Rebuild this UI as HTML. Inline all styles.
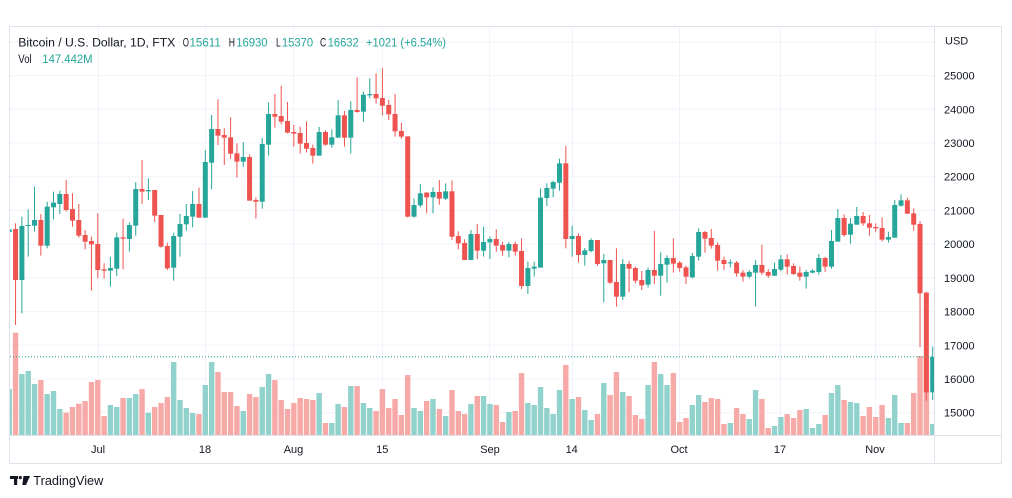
<!DOCTYPE html>
<html><head><meta charset="utf-8"><style>
html,body{margin:0;padding:0;background:#fff;}
svg{display:block;font-family:"Liberation Sans",Arial,sans-serif;}
.g{fill:#26a69a}.r{fill:#ef5350}.gv{fill:#92d2cc}.rv{fill:#f7a9a7}
.t{fill:#131722;font-size:11px}
</style></head><body>
<svg width="1012" height="498" viewBox="0 0 1012 498" xmlns="http://www.w3.org/2000/svg">
<defs><clipPath id="pc"><rect x="10" y="27" width="924" height="408"/></clipPath></defs>
<rect x="0" y="0" width="1012" height="498" fill="#fff"/>
<g stroke="#f0f3fa" stroke-width="1">
<line x1="10" y1="41.9" x2="934" y2="41.9"/><line x1="10" y1="75.6" x2="934" y2="75.6"/><line x1="10" y1="109.3" x2="934" y2="109.3"/><line x1="10" y1="143" x2="934" y2="143"/><line x1="10" y1="176.7" x2="934" y2="176.7"/><line x1="10" y1="210.5" x2="934" y2="210.5"/><line x1="10" y1="244.2" x2="934" y2="244.2"/><line x1="10" y1="277.9" x2="934" y2="277.9"/><line x1="10" y1="311.6" x2="934" y2="311.6"/><line x1="10" y1="345.3" x2="934" y2="345.3"/><line x1="10" y1="379" x2="934" y2="379"/><line x1="10" y1="412.7" x2="934" y2="412.7"/>
<line x1="98.5" y1="27" x2="98.5" y2="435"/><line x1="205.5" y1="27" x2="205.5" y2="435"/><line x1="293.5" y1="27" x2="293.5" y2="435"/><line x1="382.5" y1="27" x2="382.5" y2="435"/><line x1="489.5" y1="27" x2="489.5" y2="435"/><line x1="572.5" y1="27" x2="572.5" y2="435"/><line x1="679.5" y1="27" x2="679.5" y2="435"/><line x1="780.5" y1="27" x2="780.5" y2="435"/><line x1="875.5" y1="27" x2="875.5" y2="435"/>
</g>
<g clip-path="url(#pc)"><g transform="translate(0,60) scale(1,0.3333333)">
<g transform="translate(9.23)"><rect class="gv" x="-2.7" y="987" width="5.4" height="138"/><rect class="g" x="-0.5" y="500" width="1" height="20"/><rect class="g" x="-2.5" y="508" width="5" height="8"/></g>
<g transform="translate(15.55)"><rect class="rv" x="-2.7" y="818" width="5.4" height="307"/><rect class="r" x="-0.5" y="490" width="1" height="305"/><rect class="r" x="-2.5" y="507" width="5" height="153"/></g>
<g transform="translate(21.88)"><rect class="gv" x="-2.7" y="942" width="5.4" height="183"/><rect class="g" x="-0.5" y="470" width="1" height="290"/><rect class="g" x="-2.5" y="498" width="5" height="162"/></g>
<g transform="translate(28.2)"><rect class="gv" x="-2.7" y="933" width="5.4" height="192"/><rect class="g" x="-0.5" y="448" width="1" height="142"/><rect class="g" x="-2.5" y="495" width="5" height="3"/></g>
<g transform="translate(34.53)"><rect class="gv" x="-2.7" y="972" width="5.4" height="153"/><rect class="g" x="-0.5" y="380" width="1" height="135"/><rect class="g" x="-2.5" y="480" width="5" height="17"/></g>
<g transform="translate(40.85)"><rect class="rv" x="-2.7" y="960" width="5.4" height="165"/><rect class="r" x="-0.5" y="462" width="1" height="125"/><rect class="r" x="-2.5" y="480" width="5" height="77"/></g>
<g transform="translate(47.18)"><rect class="gv" x="-2.7" y="1002" width="5.4" height="123"/><rect class="g" x="-0.5" y="425" width="1" height="140"/><rect class="g" x="-2.5" y="440" width="5" height="117"/></g>
<g transform="translate(53.5)"><rect class="gv" x="-2.7" y="993" width="5.4" height="132"/><rect class="g" x="-0.5" y="395" width="1" height="83"/><rect class="g" x="-2.5" y="428" width="5" height="14"/></g>
<g transform="translate(59.83)"><rect class="gv" x="-2.7" y="1047" width="5.4" height="78"/><rect class="g" x="-0.5" y="392" width="1" height="70"/><rect class="g" x="-2.5" y="402" width="5" height="30"/></g>
<g transform="translate(66.15)"><rect class="rv" x="-2.7" y="1058" width="5.4" height="67"/><rect class="r" x="-0.5" y="360" width="1" height="95"/><rect class="r" x="-2.5" y="402" width="5" height="48"/></g>
<g transform="translate(72.48)"><rect class="rv" x="-2.7" y="1041" width="5.4" height="84"/><rect class="r" x="-0.5" y="400" width="1" height="100"/><rect class="r" x="-2.5" y="447" width="5" height="35"/></g>
<g transform="translate(78.8)"><rect class="rv" x="-2.7" y="1031" width="5.4" height="94"/><rect class="r" x="-0.5" y="432" width="1" height="101"/><rect class="r" x="-2.5" y="480" width="5" height="47"/></g>
<g transform="translate(85.13)"><rect class="rv" x="-2.7" y="1023" width="5.4" height="102"/><rect class="r" x="-0.5" y="510" width="1" height="58"/><rect class="r" x="-2.5" y="525" width="5" height="20"/></g>
<g transform="translate(91.45)"><rect class="rv" x="-2.7" y="966" width="5.4" height="159"/><rect class="r" x="-0.5" y="530" width="1" height="162"/><rect class="r" x="-2.5" y="543" width="5" height="10"/></g>
<g transform="translate(97.78)"><rect class="rv" x="-2.7" y="960" width="5.4" height="165"/><rect class="r" x="-0.5" y="460" width="1" height="195"/><rect class="r" x="-2.5" y="552" width="5" height="78"/></g>
<g transform="translate(104.1)"><rect class="rv" x="-2.7" y="1068" width="5.4" height="57"/><rect class="r" x="-0.5" y="610" width="1" height="45"/><rect class="r" x="-2.5" y="628" width="5" height="4"/></g>
<g transform="translate(110.43)"><rect class="gv" x="-2.7" y="1035" width="5.4" height="90"/><rect class="g" x="-0.5" y="590" width="1" height="90"/><rect class="g" x="-2.5" y="624" width="5" height="8"/></g>
<g transform="translate(116.75)"><rect class="gv" x="-2.7" y="1041" width="5.4" height="84"/><rect class="g" x="-0.5" y="518" width="1" height="130"/><rect class="g" x="-2.5" y="532" width="5" height="94"/></g>
<g transform="translate(123.08)"><rect class="rv" x="-2.7" y="1014" width="5.4" height="111"/><rect class="r" x="-0.5" y="476" width="1" height="152"/><rect class="r" x="-2.5" y="532" width="5" height="4"/></g>
<g transform="translate(129.4)"><rect class="gv" x="-2.7" y="1014" width="5.4" height="111"/><rect class="g" x="-0.5" y="487" width="1" height="88"/><rect class="g" x="-2.5" y="495" width="5" height="42"/></g>
<g transform="translate(135.73)"><rect class="gv" x="-2.7" y="1002" width="5.4" height="123"/><rect class="g" x="-0.5" y="366" width="1" height="161"/><rect class="g" x="-2.5" y="387" width="5" height="110"/></g>
<g transform="translate(142.05)"><rect class="rv" x="-2.7" y="987" width="5.4" height="138"/><rect class="r" x="-0.5" y="300" width="1" height="132"/><rect class="r" x="-2.5" y="387" width="5" height="8"/></g>
<g transform="translate(148.38)"><rect class="gv" x="-2.7" y="1058" width="5.4" height="67"/><rect class="g" x="-0.5" y="355" width="1" height="65"/><rect class="g" x="-2.5" y="390" width="5" height="4"/></g>
<g transform="translate(154.7)"><rect class="rv" x="-2.7" y="1041" width="5.4" height="84"/><rect class="r" x="-0.5" y="390" width="1" height="96"/><rect class="r" x="-2.5" y="390" width="5" height="77"/></g>
<g transform="translate(161.03)"><rect class="rv" x="-2.7" y="1029" width="5.4" height="96"/><rect class="r" x="-0.5" y="465" width="1" height="98"/><rect class="r" x="-2.5" y="465" width="5" height="95"/></g>
<g transform="translate(167.35)"><rect class="rv" x="-2.7" y="1011" width="5.4" height="114"/><rect class="r" x="-0.5" y="548" width="1" height="82"/><rect class="r" x="-2.5" y="558" width="5" height="67"/></g>
<g transform="translate(173.68)"><rect class="gv" x="-2.7" y="906" width="5.4" height="219"/><rect class="g" x="-0.5" y="518" width="1" height="144"/><rect class="g" x="-2.5" y="528" width="5" height="95"/></g>
<g transform="translate(180)"><rect class="gv" x="-2.7" y="1020" width="5.4" height="105"/><rect class="g" x="-0.5" y="462" width="1" height="128"/><rect class="g" x="-2.5" y="492" width="5" height="38"/></g>
<g transform="translate(186.33)"><rect class="gv" x="-2.7" y="1044" width="5.4" height="81"/><rect class="g" x="-0.5" y="432" width="1" height="80"/><rect class="g" x="-2.5" y="468" width="5" height="25"/></g>
<g transform="translate(192.65)"><rect class="gv" x="-2.7" y="1059" width="5.4" height="66"/><rect class="g" x="-0.5" y="393" width="1" height="109"/><rect class="g" x="-2.5" y="432" width="5" height="38"/></g>
<g transform="translate(198.98)"><rect class="rv" x="-2.7" y="1062" width="5.4" height="63"/><rect class="r" x="-0.5" y="383" width="1" height="90"/><rect class="r" x="-2.5" y="432" width="5" height="41"/></g>
<g transform="translate(205.3)"><rect class="gv" x="-2.7" y="975" width="5.4" height="150"/><rect class="g" x="-0.5" y="270" width="1" height="203"/><rect class="g" x="-2.5" y="306" width="5" height="167"/></g>
<g transform="translate(211.63)"><rect class="gv" x="-2.7" y="906" width="5.4" height="219"/><rect class="g" x="-0.5" y="165" width="1" height="223"/><rect class="g" x="-2.5" y="207" width="5" height="101"/></g>
<g transform="translate(217.95)"><rect class="rv" x="-2.7" y="936" width="5.4" height="189"/><rect class="r" x="-0.5" y="118" width="1" height="137"/><rect class="r" x="-2.5" y="207" width="5" height="20"/></g>
<g transform="translate(224.28)"><rect class="rv" x="-2.7" y="996" width="5.4" height="129"/><rect class="r" x="-0.5" y="205" width="1" height="110"/><rect class="r" x="-2.5" y="225" width="5" height="8"/></g>
<g transform="translate(230.6)"><rect class="rv" x="-2.7" y="996" width="5.4" height="129"/><rect class="r" x="-0.5" y="172" width="1" height="125"/><rect class="r" x="-2.5" y="232" width="5" height="49"/></g>
<g transform="translate(236.93)"><rect class="rv" x="-2.7" y="1038" width="5.4" height="87"/><rect class="r" x="-0.5" y="250" width="1" height="103"/><rect class="r" x="-2.5" y="280" width="5" height="25"/></g>
<g transform="translate(243.25)"><rect class="gv" x="-2.7" y="1053" width="5.4" height="72"/><rect class="g" x="-0.5" y="246" width="1" height="75"/><rect class="g" x="-2.5" y="291" width="5" height="14"/></g>
<g transform="translate(249.58)"><rect class="rv" x="-2.7" y="1002" width="5.4" height="123"/><rect class="r" x="-0.5" y="283" width="1" height="139"/><rect class="r" x="-2.5" y="291" width="5" height="131"/></g>
<g transform="translate(255.9)"><rect class="rv" x="-2.7" y="1011" width="5.4" height="114"/><rect class="r" x="-0.5" y="412" width="1" height="64"/><rect class="r" x="-2.5" y="420" width="5" height="5"/></g>
<g transform="translate(262.23)"><rect class="gv" x="-2.7" y="981" width="5.4" height="144"/><rect class="g" x="-0.5" y="234" width="1" height="212"/><rect class="g" x="-2.5" y="252" width="5" height="173"/></g>
<g transform="translate(268.55)"><rect class="gv" x="-2.7" y="942" width="5.4" height="183"/><rect class="g" x="-0.5" y="128" width="1" height="159"/><rect class="g" x="-2.5" y="162" width="5" height="92"/></g>
<g transform="translate(274.88)"><rect class="rv" x="-2.7" y="960" width="5.4" height="165"/><rect class="r" x="-0.5" y="102" width="1" height="101"/><rect class="r" x="-2.5" y="162" width="5" height="8"/></g>
<g transform="translate(281.2)"><rect class="rv" x="-2.7" y="1020" width="5.4" height="105"/><rect class="r" x="-0.5" y="78" width="1" height="115"/><rect class="r" x="-2.5" y="168" width="5" height="17"/></g>
<g transform="translate(287.53)"><rect class="rv" x="-2.7" y="1047" width="5.4" height="78"/><rect class="r" x="-0.5" y="126" width="1" height="94"/><rect class="r" x="-2.5" y="183" width="5" height="35"/></g>
<g transform="translate(293.85)"><rect class="rv" x="-2.7" y="1029" width="5.4" height="96"/><rect class="r" x="-0.5" y="195" width="1" height="65"/><rect class="r" x="-2.5" y="216" width="5" height="5"/></g>
<g transform="translate(300.18)"><rect class="rv" x="-2.7" y="1014" width="5.4" height="111"/><rect class="r" x="-0.5" y="200" width="1" height="81"/><rect class="r" x="-2.5" y="219" width="5" height="32"/></g>
<g transform="translate(306.5)"><rect class="rv" x="-2.7" y="1017" width="5.4" height="108"/><rect class="r" x="-0.5" y="184" width="1" height="93"/><rect class="r" x="-2.5" y="249" width="5" height="17"/></g>
<g transform="translate(312.83)"><rect class="rv" x="-2.7" y="1020" width="5.4" height="105"/><rect class="r" x="-0.5" y="254" width="1" height="57"/><rect class="r" x="-2.5" y="264" width="5" height="23"/></g>
<g transform="translate(319.15)"><rect class="gv" x="-2.7" y="999" width="5.4" height="126"/><rect class="g" x="-0.5" y="201" width="1" height="86"/><rect class="g" x="-2.5" y="216" width="5" height="71"/></g>
<g transform="translate(325.48)"><rect class="rv" x="-2.7" y="1089" width="5.4" height="36"/><rect class="r" x="-0.5" y="211" width="1" height="46"/><rect class="r" x="-2.5" y="216" width="5" height="38"/></g>
<g transform="translate(331.8)"><rect class="gv" x="-2.7" y="1089" width="5.4" height="36"/><rect class="g" x="-0.5" y="208" width="1" height="55"/><rect class="g" x="-2.5" y="232" width="5" height="22"/></g>
<g transform="translate(338.13)"><rect class="gv" x="-2.7" y="1032" width="5.4" height="93"/><rect class="g" x="-0.5" y="120" width="1" height="113"/><rect class="g" x="-2.5" y="166" width="5" height="67"/></g>
<g transform="translate(344.45)"><rect class="rv" x="-2.7" y="1041" width="5.4" height="84"/><rect class="r" x="-0.5" y="153" width="1" height="107"/><rect class="r" x="-2.5" y="166" width="5" height="67"/></g>
<g transform="translate(350.78)"><rect class="gv" x="-2.7" y="978" width="5.4" height="147"/><rect class="g" x="-0.5" y="124" width="1" height="157"/><rect class="g" x="-2.5" y="150" width="5" height="83"/></g>
<g transform="translate(357.1)"><rect class="rv" x="-2.7" y="978" width="5.4" height="147"/><rect class="r" x="-0.5" y="52" width="1" height="106"/><rect class="r" x="-2.5" y="150" width="5" height="6"/></g>
<g transform="translate(363.43)"><rect class="gv" x="-2.7" y="1029" width="5.4" height="96"/><rect class="g" x="-0.5" y="95" width="1" height="90"/><rect class="g" x="-2.5" y="104" width="5" height="51"/></g>
<g transform="translate(369.75)"><rect class="gv" x="-2.7" y="1044" width="5.4" height="81"/><rect class="g" x="-0.5" y="55" width="1" height="60"/><rect class="g" x="-2.5" y="102" width="5" height="4"/></g>
<g transform="translate(376.08)"><rect class="rv" x="-2.7" y="1053" width="5.4" height="72"/><rect class="r" x="-0.5" y="40" width="1" height="91"/><rect class="r" x="-2.5" y="102" width="5" height="13"/></g>
<g transform="translate(382.4)"><rect class="rv" x="-2.7" y="987" width="5.4" height="138"/><rect class="r" x="-0.5" y="24" width="1" height="142"/><rect class="r" x="-2.5" y="114" width="5" height="23"/></g>
<g transform="translate(388.73)"><rect class="rv" x="-2.7" y="1044" width="5.4" height="81"/><rect class="r" x="-0.5" y="120" width="1" height="60"/><rect class="r" x="-2.5" y="135" width="5" height="28"/></g>
<g transform="translate(395.05)"><rect class="rv" x="-2.7" y="1017" width="5.4" height="108"/><rect class="r" x="-0.5" y="102" width="1" height="128"/><rect class="r" x="-2.5" y="162" width="5" height="52"/></g>
<g transform="translate(401.38)"><rect class="rv" x="-2.7" y="1065" width="5.4" height="60"/><rect class="r" x="-0.5" y="188" width="1" height="48"/><rect class="r" x="-2.5" y="213" width="5" height="17"/></g>
<g transform="translate(407.7)"><rect class="rv" x="-2.7" y="945" width="5.4" height="180"/><rect class="r" x="-0.5" y="229" width="1" height="243"/><rect class="r" x="-2.5" y="229" width="5" height="241"/></g>
<g transform="translate(414.03)"><rect class="gv" x="-2.7" y="1044" width="5.4" height="81"/><rect class="g" x="-0.5" y="415" width="1" height="58"/><rect class="g" x="-2.5" y="435" width="5" height="35"/></g>
<g transform="translate(420.35)"><rect class="gv" x="-2.7" y="1053" width="5.4" height="72"/><rect class="g" x="-0.5" y="372" width="1" height="70"/><rect class="g" x="-2.5" y="400" width="5" height="36"/></g>
<g transform="translate(426.68)"><rect class="rv" x="-2.7" y="1023" width="5.4" height="102"/><rect class="r" x="-0.5" y="396" width="1" height="64"/><rect class="r" x="-2.5" y="398" width="5" height="14"/></g>
<g transform="translate(433)"><rect class="gv" x="-2.7" y="1017" width="5.4" height="108"/><rect class="g" x="-0.5" y="382" width="1" height="78"/><rect class="g" x="-2.5" y="396" width="5" height="16"/></g>
<g transform="translate(439.33)"><rect class="rv" x="-2.7" y="1047" width="5.4" height="78"/><rect class="r" x="-0.5" y="360" width="1" height="74"/><rect class="r" x="-2.5" y="396" width="5" height="20"/></g>
<g transform="translate(445.65)"><rect class="gv" x="-2.7" y="1068" width="5.4" height="57"/><rect class="g" x="-0.5" y="370" width="1" height="50"/><rect class="g" x="-2.5" y="394" width="5" height="22"/></g>
<g transform="translate(451.98)"><rect class="rv" x="-2.7" y="990" width="5.4" height="135"/><rect class="r" x="-0.5" y="362" width="1" height="178"/><rect class="r" x="-2.5" y="394" width="5" height="136"/></g>
<g transform="translate(458.3)"><rect class="rv" x="-2.7" y="1053" width="5.4" height="72"/><rect class="r" x="-0.5" y="514" width="1" height="54"/><rect class="r" x="-2.5" y="528" width="5" height="22"/></g>
<g transform="translate(464.63)"><rect class="rv" x="-2.7" y="1062" width="5.4" height="63"/><rect class="r" x="-0.5" y="538" width="1" height="62"/><rect class="r" x="-2.5" y="549" width="5" height="51"/></g>
<g transform="translate(470.95)"><rect class="gv" x="-2.7" y="1032" width="5.4" height="93"/><rect class="g" x="-0.5" y="510" width="1" height="90"/><rect class="g" x="-2.5" y="522" width="5" height="78"/></g>
<g transform="translate(477.28)"><rect class="rv" x="-2.7" y="1008" width="5.4" height="117"/><rect class="r" x="-0.5" y="492" width="1" height="105"/><rect class="r" x="-2.5" y="522" width="5" height="50"/></g>
<g transform="translate(483.6)"><rect class="gv" x="-2.7" y="1008" width="5.4" height="117"/><rect class="g" x="-0.5" y="500" width="1" height="90"/><rect class="g" x="-2.5" y="546" width="5" height="26"/></g>
<g transform="translate(489.93)"><rect class="gv" x="-2.7" y="1032" width="5.4" height="93"/><rect class="g" x="-0.5" y="530" width="1" height="67"/><rect class="g" x="-2.5" y="537" width="5" height="10"/></g>
<g transform="translate(496.25)"><rect class="rv" x="-2.7" y="1035" width="5.4" height="90"/><rect class="r" x="-0.5" y="508" width="1" height="67"/><rect class="r" x="-2.5" y="537" width="5" height="20"/></g>
<g transform="translate(502.58)"><rect class="rv" x="-2.7" y="1086" width="5.4" height="39"/><rect class="r" x="-0.5" y="545" width="1" height="42"/><rect class="r" x="-2.5" y="555" width="5" height="17"/></g>
<g transform="translate(508.9)"><rect class="gv" x="-2.7" y="1056" width="5.4" height="69"/><rect class="g" x="-0.5" y="546" width="1" height="46"/><rect class="g" x="-2.5" y="552" width="5" height="20"/></g>
<g transform="translate(515.23)"><rect class="rv" x="-2.7" y="1053" width="5.4" height="72"/><rect class="r" x="-0.5" y="545" width="1" height="42"/><rect class="r" x="-2.5" y="552" width="5" height="23"/></g>
<g transform="translate(521.55)"><rect class="rv" x="-2.7" y="939" width="5.4" height="186"/><rect class="r" x="-0.5" y="535" width="1" height="152"/><rect class="r" x="-2.5" y="573" width="5" height="105"/></g>
<g transform="translate(527.88)"><rect class="gv" x="-2.7" y="1029" width="5.4" height="96"/><rect class="g" x="-0.5" y="605" width="1" height="97"/><rect class="g" x="-2.5" y="624" width="5" height="54"/></g>
<g transform="translate(534.2)"><rect class="gv" x="-2.7" y="1035" width="5.4" height="90"/><rect class="g" x="-0.5" y="605" width="1" height="45"/><rect class="g" x="-2.5" y="620" width="5" height="6"/></g>
<g transform="translate(540.53)"><rect class="gv" x="-2.7" y="981" width="5.4" height="144"/><rect class="g" x="-0.5" y="385" width="1" height="238"/><rect class="g" x="-2.5" y="413" width="5" height="210"/></g>
<g transform="translate(546.85)"><rect class="gv" x="-2.7" y="1044" width="5.4" height="81"/><rect class="g" x="-0.5" y="370" width="1" height="68"/><rect class="g" x="-2.5" y="384" width="5" height="30"/></g>
<g transform="translate(553.18)"><rect class="gv" x="-2.7" y="1062" width="5.4" height="63"/><rect class="g" x="-0.5" y="362" width="1" height="50"/><rect class="g" x="-2.5" y="366" width="5" height="20"/></g>
<g transform="translate(559.5)"><rect class="gv" x="-2.7" y="990" width="5.4" height="135"/><rect class="g" x="-0.5" y="296" width="1" height="96"/><rect class="g" x="-2.5" y="310" width="5" height="58"/></g>
<g transform="translate(565.83)"><rect class="rv" x="-2.7" y="915" width="5.4" height="210"/><rect class="r" x="-0.5" y="258" width="1" height="307"/><rect class="r" x="-2.5" y="310" width="5" height="227"/></g>
<g transform="translate(572.15)"><rect class="gv" x="-2.7" y="1017" width="5.4" height="108"/><rect class="g" x="-0.5" y="497" width="1" height="93"/><rect class="g" x="-2.5" y="528" width="5" height="9"/></g>
<g transform="translate(578.48)"><rect class="rv" x="-2.7" y="1011" width="5.4" height="114"/><rect class="r" x="-0.5" y="520" width="1" height="88"/><rect class="r" x="-2.5" y="528" width="5" height="57"/></g>
<g transform="translate(584.8)"><rect class="gv" x="-2.7" y="1050" width="5.4" height="75"/><rect class="g" x="-0.5" y="564" width="1" height="53"/><rect class="g" x="-2.5" y="571" width="5" height="14"/></g>
<g transform="translate(591.13)"><rect class="gv" x="-2.7" y="1080" width="5.4" height="45"/><rect class="g" x="-0.5" y="535" width="1" height="42"/><rect class="g" x="-2.5" y="540" width="5" height="33"/></g>
<g transform="translate(597.45)"><rect class="rv" x="-2.7" y="1062" width="5.4" height="63"/><rect class="r" x="-0.5" y="540" width="1" height="77"/><rect class="r" x="-2.5" y="540" width="5" height="72"/></g>
<g transform="translate(603.78)"><rect class="gv" x="-2.7" y="969" width="5.4" height="156"/><rect class="g" x="-0.5" y="582" width="1" height="145"/><rect class="g" x="-2.5" y="600" width="5" height="10"/></g>
<g transform="translate(610.1)"><rect class="rv" x="-2.7" y="1005" width="5.4" height="120"/><rect class="r" x="-0.5" y="600" width="1" height="72"/><rect class="r" x="-2.5" y="600" width="5" height="68"/></g>
<g transform="translate(616.43)"><rect class="rv" x="-2.7" y="936" width="5.4" height="189"/><rect class="r" x="-0.5" y="565" width="1" height="175"/><rect class="r" x="-2.5" y="666" width="5" height="44"/></g>
<g transform="translate(622.75)"><rect class="gv" x="-2.7" y="996" width="5.4" height="129"/><rect class="g" x="-0.5" y="597" width="1" height="123"/><rect class="g" x="-2.5" y="612" width="5" height="98"/></g>
<g transform="translate(629.08)"><rect class="rv" x="-2.7" y="1008" width="5.4" height="117"/><rect class="r" x="-0.5" y="603" width="1" height="94"/><rect class="r" x="-2.5" y="612" width="5" height="14"/></g>
<g transform="translate(635.4)"><rect class="rv" x="-2.7" y="1065" width="5.4" height="60"/><rect class="r" x="-0.5" y="620" width="1" height="50"/><rect class="r" x="-2.5" y="624" width="5" height="38"/></g>
<g transform="translate(641.73)"><rect class="rv" x="-2.7" y="1077" width="5.4" height="48"/><rect class="r" x="-0.5" y="633" width="1" height="57"/><rect class="r" x="-2.5" y="660" width="5" height="16"/></g>
<g transform="translate(648.05)"><rect class="gv" x="-2.7" y="975" width="5.4" height="150"/><rect class="g" x="-0.5" y="622" width="1" height="61"/><rect class="g" x="-2.5" y="630" width="5" height="44"/></g>
<g transform="translate(654.38)"><rect class="rv" x="-2.7" y="906" width="5.4" height="219"/><rect class="r" x="-0.5" y="513" width="1" height="159"/><rect class="r" x="-2.5" y="630" width="5" height="17"/></g>
<g transform="translate(660.7)"><rect class="gv" x="-2.7" y="942" width="5.4" height="183"/><rect class="g" x="-0.5" y="577" width="1" height="130"/><rect class="g" x="-2.5" y="612" width="5" height="35"/></g>
<g transform="translate(667.03)"><rect class="gv" x="-2.7" y="975" width="5.4" height="150"/><rect class="g" x="-0.5" y="586" width="1" height="82"/><rect class="g" x="-2.5" y="594" width="5" height="20"/></g>
<g transform="translate(673.35)"><rect class="rv" x="-2.7" y="939" width="5.4" height="186"/><rect class="r" x="-0.5" y="535" width="1" height="103"/><rect class="r" x="-2.5" y="594" width="5" height="17"/></g>
<g transform="translate(679.68)"><rect class="rv" x="-2.7" y="1086" width="5.4" height="39"/><rect class="r" x="-0.5" y="603" width="1" height="32"/><rect class="r" x="-2.5" y="608" width="5" height="16"/></g>
<g transform="translate(686)"><rect class="rv" x="-2.7" y="1074" width="5.4" height="51"/><rect class="r" x="-0.5" y="617" width="1" height="55"/><rect class="r" x="-2.5" y="622" width="5" height="28"/></g>
<g transform="translate(692.33)"><rect class="gv" x="-2.7" y="1035" width="5.4" height="90"/><rect class="g" x="-0.5" y="579" width="1" height="76"/><rect class="g" x="-2.5" y="588" width="5" height="64"/></g>
<g transform="translate(698.65)"><rect class="gv" x="-2.7" y="1005" width="5.4" height="120"/><rect class="g" x="-0.5" y="505" width="1" height="97"/><rect class="g" x="-2.5" y="516" width="5" height="74"/></g>
<g transform="translate(704.98)"><rect class="rv" x="-2.7" y="1026" width="5.4" height="99"/><rect class="r" x="-0.5" y="513" width="1" height="65"/><rect class="r" x="-2.5" y="516" width="5" height="20"/></g>
<g transform="translate(711.3)"><rect class="rv" x="-2.7" y="1014" width="5.4" height="111"/><rect class="r" x="-0.5" y="507" width="1" height="59"/><rect class="r" x="-2.5" y="534" width="5" height="23"/></g>
<g transform="translate(717.63)"><rect class="rv" x="-2.7" y="1017" width="5.4" height="108"/><rect class="r" x="-0.5" y="547" width="1" height="85"/><rect class="r" x="-2.5" y="555" width="5" height="47"/></g>
<g transform="translate(723.95)"><rect class="rv" x="-2.7" y="1092" width="5.4" height="33"/><rect class="r" x="-0.5" y="590" width="1" height="40"/><rect class="r" x="-2.5" y="600" width="5" height="12"/></g>
<g transform="translate(730.28)"><rect class="gv" x="-2.7" y="1089" width="5.4" height="36"/><rect class="g" x="-0.5" y="598" width="1" height="24"/><rect class="g" x="-2.5" y="607" width="5" height="3"/></g>
<g transform="translate(736.6)"><rect class="rv" x="-2.7" y="1044" width="5.4" height="81"/><rect class="r" x="-0.5" y="603" width="1" height="47"/><rect class="r" x="-2.5" y="608" width="5" height="32"/></g>
<g transform="translate(742.93)"><rect class="rv" x="-2.7" y="1062" width="5.4" height="63"/><rect class="r" x="-0.5" y="630" width="1" height="35"/><rect class="r" x="-2.5" y="638" width="5" height="12"/></g>
<g transform="translate(749.25)"><rect class="gv" x="-2.7" y="1077" width="5.4" height="48"/><rect class="g" x="-0.5" y="630" width="1" height="25"/><rect class="g" x="-2.5" y="636" width="5" height="14"/></g>
<g transform="translate(755.58)"><rect class="gv" x="-2.7" y="990" width="5.4" height="135"/><rect class="g" x="-0.5" y="600" width="1" height="140"/><rect class="g" x="-2.5" y="615" width="5" height="23"/></g>
<g transform="translate(761.9)"><rect class="rv" x="-2.7" y="1017" width="5.4" height="108"/><rect class="r" x="-0.5" y="554" width="1" height="90"/><rect class="r" x="-2.5" y="615" width="5" height="23"/></g>
<g transform="translate(768.23)"><rect class="rv" x="-2.7" y="1104" width="5.4" height="21"/><rect class="r" x="-0.5" y="628" width="1" height="26"/><rect class="r" x="-2.5" y="636" width="5" height="11"/></g>
<g transform="translate(774.55)"><rect class="gv" x="-2.7" y="1098" width="5.4" height="27"/><rect class="g" x="-0.5" y="608" width="1" height="40"/><rect class="g" x="-2.5" y="627" width="5" height="20"/></g>
<g transform="translate(780.88)"><rect class="gv" x="-2.7" y="1071" width="5.4" height="54"/><rect class="g" x="-0.5" y="585" width="1" height="49"/><rect class="g" x="-2.5" y="598" width="5" height="31"/></g>
<g transform="translate(787.2)"><rect class="rv" x="-2.7" y="1062" width="5.4" height="63"/><rect class="r" x="-0.5" y="583" width="1" height="61"/><rect class="r" x="-2.5" y="598" width="5" height="22"/></g>
<g transform="translate(793.53)"><rect class="rv" x="-2.7" y="1074" width="5.4" height="51"/><rect class="r" x="-0.5" y="610" width="1" height="35"/><rect class="r" x="-2.5" y="618" width="5" height="24"/></g>
<g transform="translate(799.85)"><rect class="rv" x="-2.7" y="1050" width="5.4" height="75"/><rect class="r" x="-0.5" y="620" width="1" height="42"/><rect class="r" x="-2.5" y="638" width="5" height="12"/></g>
<g transform="translate(806.18)"><rect class="gv" x="-2.7" y="1047" width="5.4" height="78"/><rect class="g" x="-0.5" y="630" width="1" height="56"/><rect class="g" x="-2.5" y="636" width="5" height="14"/></g>
<g transform="translate(812.5)"><rect class="gv" x="-2.7" y="1104" width="5.4" height="21"/><rect class="g" x="-0.5" y="628" width="1" height="12"/><rect class="g" x="-2.5" y="632" width="5" height="6"/></g>
<g transform="translate(818.83)"><rect class="gv" x="-2.7" y="1092" width="5.4" height="33"/><rect class="g" x="-0.5" y="582" width="1" height="62"/><rect class="g" x="-2.5" y="594" width="5" height="42"/></g>
<g transform="translate(825.15)"><rect class="rv" x="-2.7" y="1065" width="5.4" height="60"/><rect class="r" x="-0.5" y="590" width="1" height="46"/><rect class="r" x="-2.5" y="594" width="5" height="26"/></g>
<g transform="translate(831.48)"><rect class="gv" x="-2.7" y="999" width="5.4" height="126"/><rect class="g" x="-0.5" y="510" width="1" height="116"/><rect class="g" x="-2.5" y="543" width="5" height="77"/></g>
<g transform="translate(837.8)"><rect class="gv" x="-2.7" y="975" width="5.4" height="150"/><rect class="g" x="-0.5" y="447" width="1" height="98"/><rect class="g" x="-2.5" y="474" width="5" height="71"/></g>
<g transform="translate(844.13)"><rect class="rv" x="-2.7" y="1020" width="5.4" height="105"/><rect class="r" x="-0.5" y="463" width="1" height="67"/><rect class="r" x="-2.5" y="474" width="5" height="51"/></g>
<g transform="translate(850.45)"><rect class="gv" x="-2.7" y="1026" width="5.4" height="99"/><rect class="g" x="-0.5" y="474" width="1" height="77"/><rect class="g" x="-2.5" y="491" width="5" height="33"/></g>
<g transform="translate(856.78)"><rect class="gv" x="-2.7" y="1029" width="5.4" height="96"/><rect class="g" x="-0.5" y="441" width="1" height="53"/><rect class="g" x="-2.5" y="468" width="5" height="26"/></g>
<g transform="translate(863.1)"><rect class="rv" x="-2.7" y="1068" width="5.4" height="57"/><rect class="r" x="-0.5" y="456" width="1" height="41"/><rect class="r" x="-2.5" y="468" width="5" height="22"/></g>
<g transform="translate(869.43)"><rect class="rv" x="-2.7" y="1041" width="5.4" height="84"/><rect class="r" x="-0.5" y="465" width="1" height="62"/><rect class="r" x="-2.5" y="490" width="5" height="13"/></g>
<g transform="translate(875.75)"><rect class="rv" x="-2.7" y="1071" width="5.4" height="54"/><rect class="r" x="-0.5" y="490" width="1" height="27"/><rect class="r" x="-2.5" y="501" width="5" height="4"/></g>
<g transform="translate(882.08)"><rect class="rv" x="-2.7" y="1035" width="5.4" height="90"/><rect class="r" x="-0.5" y="472" width="1" height="73"/><rect class="r" x="-2.5" y="504" width="5" height="35"/></g>
<g transform="translate(888.4)"><rect class="gv" x="-2.7" y="1074" width="5.4" height="51"/><rect class="g" x="-0.5" y="515" width="1" height="33"/><rect class="g" x="-2.5" y="531" width="5" height="8"/></g>
<g transform="translate(894.73)"><rect class="gv" x="-2.7" y="1005" width="5.4" height="120"/><rect class="g" x="-0.5" y="420" width="1" height="113"/><rect class="g" x="-2.5" y="435" width="5" height="98"/></g>
<g transform="translate(901.05)"><rect class="gv" x="-2.7" y="1089" width="5.4" height="36"/><rect class="g" x="-0.5" y="403" width="1" height="37"/><rect class="g" x="-2.5" y="421" width="5" height="16"/></g>
<g transform="translate(907.38)"><rect class="rv" x="-2.7" y="1089" width="5.4" height="36"/><rect class="r" x="-0.5" y="413" width="1" height="49"/><rect class="r" x="-2.5" y="421" width="5" height="40"/></g>
<g transform="translate(913.7)"><rect class="rv" x="-2.7" y="999" width="5.4" height="126"/><rect class="r" x="-0.5" y="445" width="1" height="67"/><rect class="r" x="-2.5" y="460" width="5" height="34"/></g>
<g transform="translate(920.03)"><rect class="rv" x="-2.7" y="888" width="5.4" height="237"/><rect class="r" x="-0.5" y="483" width="1" height="379"/><rect class="r" x="-2.5" y="492" width="5" height="208"/></g>
<g transform="translate(926.35)"><rect class="rv" x="-2.7" y="888" width="5.4" height="237"/><rect class="r" x="-0.5" y="695" width="1" height="327"/><rect class="r" x="-2.5" y="698" width="5" height="299"/></g>
<g transform="translate(932.68)"><rect class="gv" x="-2.7" y="1092" width="5.4" height="33"/><rect class="g" x="-0.5" y="860" width="1" height="160"/><rect class="g" x="-2.5" y="891" width="5" height="106"/></g>
</g>
<line x1="10" y1="356.7" x2="934" y2="356.7" stroke="#26a69a" stroke-width="1" stroke-dasharray="1 2"/>
</g>
<g fill="none" stroke="#e0e3eb" stroke-width="1">
<rect x="9.5" y="26.5" width="992" height="437"/>
<line x1="934.5" y1="27" x2="934.5" y2="463"/>
<line x1="10" y1="435.5" x2="1001" y2="435.5"/>
</g>
<g font-size="11.5">
<text x="18.3" y="46.5" fill="#131722" textLength="157" lengthAdjust="spacingAndGlyphs">Bitcoin / U.S. Dollar, 1D, FTX</text>
<text x="182.7" y="46.5" fill="#131722" textLength="6.2" lengthAdjust="spacingAndGlyphs">O</text><text x="189.5" y="46.5" fill="#26a69a" textLength="31.3" lengthAdjust="spacingAndGlyphs">15611</text>
<text x="228.7" y="46.5" fill="#131722" textLength="6.2" lengthAdjust="spacingAndGlyphs">H</text><text x="236.2" y="46.5" fill="#26a69a" textLength="31.3" lengthAdjust="spacingAndGlyphs">16930</text>
<text x="276" y="46.5" fill="#131722" textLength="4.8" lengthAdjust="spacingAndGlyphs">L</text><text x="281.9" y="46.5" fill="#26a69a" textLength="31.3" lengthAdjust="spacingAndGlyphs">15370</text>
<text x="320" y="46.5" fill="#131722" textLength="6.2" lengthAdjust="spacingAndGlyphs">C</text><text x="327.7" y="46.5" fill="#26a69a" textLength="31" lengthAdjust="spacingAndGlyphs">16632</text>
<text x="366" y="46.5" fill="#26a69a" textLength="80" lengthAdjust="spacingAndGlyphs">+1021 (+6.54%)</text>
<text x="18.3" y="63" fill="#131722" textLength="13.4" lengthAdjust="spacingAndGlyphs">Vol</text>
<text x="42.3" y="63" fill="#26a69a" textLength="50.3" lengthAdjust="spacingAndGlyphs">147.442M</text>
</g>
<g class="t">
<text x="945" y="44.5">USD</text>
<text x="944" y="79.6">25000</text><text x="944" y="113.3">24000</text><text x="944" y="147">23000</text><text x="944" y="180.7">22000</text><text x="944" y="214.5">21000</text><text x="944" y="248.2">20000</text><text x="944" y="281.9">19000</text><text x="944" y="315.6">18000</text><text x="944" y="349.3">17000</text><text x="944" y="383">16000</text><text x="944" y="416.7">15000</text>
</g>
<g class="t" text-anchor="middle">
<text x="98" y="453">Jul</text><text x="205" y="453">18</text><text x="293.5" y="453">Aug</text><text x="382.3" y="453">15</text><text x="490" y="453">Sep</text><text x="571.7" y="453">14</text><text x="679" y="453">Oct</text><text x="780" y="453">17</text><text x="875" y="453">Nov</text>
</g>
<g fill="#131722">
<rect x="10" y="476" width="8" height="3"/><rect x="14" y="476" width="3.2" height="9"/>
<circle cx="20.3" cy="477.6" r="1.6"/>
<polygon points="23.5,476 30,476 26,485 22.3,485"/>
</g>
<text x="33.3" y="485" fill="#131722" font-size="12.5" textLength="70" lengthAdjust="spacingAndGlyphs">TradingView</text>
</svg>
</body></html>
